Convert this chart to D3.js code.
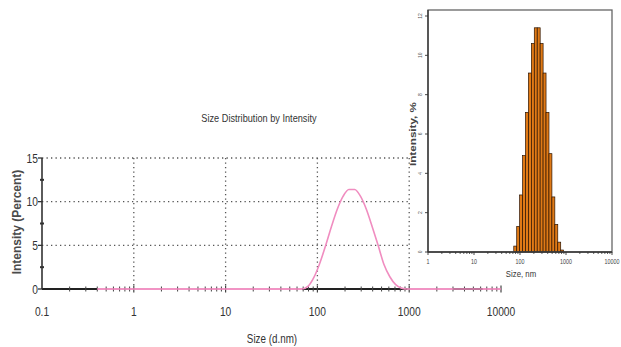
<!DOCTYPE html>
<html><head><meta charset="utf-8">
<script src="https://cdn.jsdelivr.net/npm/d3@7/dist/d3.min.js"></script>
<style>
html,body{margin:0;padding:0;background:#fff;}
svg{display:block;}
text{font-family:"Liberation Sans",Arial,sans-serif;}
</style></head>
<body><svg id="c" width="621" height="347"></svg>
<script>
// ---- data ----
const sizeNm = [0.4, 68.06, 78.82, 91.28, 105.7, 122.4, 141.8, 164.2, 190.1, 220.2, 255.0, 295.3, 342.0, 396.1, 458.7, 531.2, 615.1, 712.4, 825.0, 955.4, 10000];
const intensityPct = [0, 0, 0.3, 1.3, 2.9, 4.9, 7.1, 9.1, 10.6, 11.4, 11.4, 10.6, 9.1, 7.1, 5.0, 2.8, 1.4, 0.5, 0.1, 0, 0];
const blackBaseSegments = [[0.1, 0.4], [68.06, 955.4], [3000, 6300]];
const mainXTicks = [0.1, 1, 10, 100, 1000, 10000];
const mainXTickLabels = ["0.1", "1", "10", "100", "1000", "10000"];
const mainYTicks = [0, 5, 10, 15];
const insetXTicks = [1, 10, 100, 1000, 10000];
const insetXTickLabels = ["1", "10", "100", "1000", "10000"];
const insetYTicks = [0, 2, 4, 6, 8, 10, 12];
const binRatio = 1.1586;

const svg = d3.select("#c");
const pink = "#F08DC0";
const axisCol = "#333";
const NARROW = 0.82;

// narrow text helper (condensed look)
function ntext(sel, px, py, str, size, anchor, fill, rot) {
  const t = `translate(${px},${py})` + (rot ? ` rotate(${rot})` : "") + ` scale(${NARROW},1)`;
  return sel.append("text").attr("transform", t).attr("text-anchor", anchor || "middle")
    .attr("font-size", size).attr("fill", fill || "#333").text(str);
}

// ---- main chart ----
const x = d3.scaleLog().domain([0.1, 10000]).range([42, 501]);
const y = d3.scaleLinear().domain([0, 15]).range([289, 158]);

const g = svg.append("g");
g.selectAll(".hg").data(mainYTicks.filter(d => d > 0)).join("line")
  .attr("x1", x(0.1)).attr("x2", x(10000)).attr("y1", d => y(d)).attr("y2", d => y(d))
  .attr("stroke", "#555").attr("stroke-width", 1.3).attr("stroke-dasharray", "1.3,3.2");
g.selectAll(".vg").data(mainXTicks.filter(d => d > 0.1 && d < 10000)).join("line")
  .attr("x1", d => x(d)).attr("x2", d => x(d)).attr("y1", y(15)).attr("y2", y(0))
  .attr("stroke", "#555").attr("stroke-width", 1.3).attr("stroke-dasharray", "1.3,3.2");

// pink baseline
g.append("line").attr("x1", x(0.4)).attr("x2", x(10000)).attr("y1", y(0)).attr("y2", y(0))
  .attr("stroke", pink).attr("stroke-width", 1.6);
// black baseline segments
g.selectAll(".bs").data(blackBaseSegments).join("line")
  .attr("x1", d => x(d[0])).attr("x2", d => x(d[1])).attr("y1", y(0)).attr("y2", y(0))
  .attr("stroke", "#222").attr("stroke-width", 1.8);

// x minor ticks on baseline
const minor = [];
for (let e = -1; e <= 3; e++) for (let k = 2; k <= 9; k++) minor.push(k * Math.pow(10, e));
g.selectAll(".mt").data(minor).join("line")
  .attr("x1", d => x(d)).attr("x2", d => x(d)).attr("y1", y(0) - 2.5).attr("y2", y(0) + 2.5)
  .attr("stroke", "#444").attr("stroke-width", 1);
g.selectAll(".Mt").data(mainXTicks.filter(d => d > 0.1)).join("line")
  .attr("x1", d => x(d)).attr("x2", d => x(d)).attr("y1", y(0) - 3.5).attr("y2", y(0) + 3.5)
  .attr("stroke", "#444").attr("stroke-width", 1.2);

// pink curve
const line = d3.line().x((d, i) => x(sizeNm[i])).y(d => y(d)).curve(d3.curveMonotoneX);
g.append("path").datum(intensityPct).attr("d", line)
  .attr("fill", "none").attr("stroke", pink).attr("stroke-width", 1.6);

// y axis
g.append("line").attr("x1", x(0.1)).attr("x2", x(0.1)).attr("y1", y(15)).attr("y2", y(0))
  .attr("stroke", axisCol).attr("stroke-width", 1.6);
g.selectAll(".yt").data(mainYTicks).join("line")
  .attr("x1", x(0.1) - 4).attr("x2", x(0.1)).attr("y1", d => y(d)).attr("y2", d => y(d))
  .attr("stroke", axisCol).attr("stroke-width", 1.3);
g.selectAll(".ymt").data([2.5, 7.5, 12.5]).join("line")
  .attr("x1", x(0.1) - 2).attr("x2", x(0.1) + 2).attr("y1", d => y(d)).attr("y2", d => y(d))
  .attr("stroke", axisCol).attr("stroke-width", 2);
mainYTicks.forEach(d => ntext(g, x(0.1) - 4, y(d) + 4.5, d, 12.5, "end"));
mainXTicks.forEach((d, i) => ntext(g, x(d), 316, mainXTickLabels[i], 12.5, "middle"));

// titles
ntext(svg, 259, 122, "Size Distribution by Intensity", 11.2, "middle");
ntext(svg, 272, 343, "Size (d.nm)", 12, "middle");
svg.append("text").attr("transform", "translate(21,222) rotate(-90)").attr("text-anchor", "middle")
  .attr("font-weight", "bold").attr("font-size", 12).attr("fill", "#4a4a4a").text("Intensity (Percent)");

// ---- inset ----
const xi = d3.scaleLog().domain([1, 10000]).range([428, 612]);
const yi = d3.scaleLinear().domain([0, 12]).range([252, 16]);
const ins = svg.append("g");
ins.append("rect").attr("x", 411).attr("y", 0).attr("width", 210).attr("height", 283).attr("fill", "#fff");

const bars = sizeNm.map((s, i) => ({ s, v: intensityPct[i] })).filter(d => d.v > 0);
ins.selectAll(".bar").data(bars).join("rect")
  .attr("x", d => xi(d.s / Math.sqrt(binRatio)))
  .attr("width", d => xi(d.s * Math.sqrt(binRatio)) - xi(d.s / Math.sqrt(binRatio)))
  .attr("y", d => yi(d.v)).attr("height", d => yi(0) - yi(d.v))
  .attr("fill", "#E07A16").attr("stroke", "#2a1200").attr("stroke-width", 0.7);

ins.append("rect").attr("x", xi(1)).attr("y", 10).attr("width", xi(10000) - xi(1)).attr("height", yi(0) - 10)
  .attr("fill", "none").attr("stroke", "#666").attr("stroke-width", 1.3);
ins.append("line").attr("x1", xi(1)).attr("x2", xi(10000)).attr("y1", yi(0)).attr("y2", yi(0))
  .attr("stroke", "#333").attr("stroke-width", 1.3);
ins.append("line").attr("x1", xi(1)).attr("x2", xi(1)).attr("y1", 10).attr("y2", yi(0))
  .attr("stroke", "#333").attr("stroke-width", 1.3);

const iminor = [];
for (let e = 0; e <= 3; e++) for (let k = 2; k <= 9; k++) iminor.push(k * Math.pow(10, e));
ins.selectAll(".imt").data(iminor).join("line")
  .attr("x1", d => xi(d)).attr("x2", d => xi(d)).attr("y1", yi(0)).attr("y2", yi(0) + 2)
  .attr("stroke", "#333").attr("stroke-width", 0.8);
ins.selectAll(".iMt").data(insetXTicks).join("line")
  .attr("x1", d => xi(d)).attr("x2", d => xi(d)).attr("y1", yi(0)).attr("y2", yi(0) + 3)
  .attr("stroke", "#333").attr("stroke-width", 0.9);
insetXTicks.forEach((d, i) => ntext(ins, xi(d), 264, insetXTickLabels[i], 6.5, "middle", "#444"));

ins.selectAll(".iyt").data(insetYTicks).join("line")
  .attr("x1", xi(1) - 3).attr("x2", xi(1)).attr("y1", d => yi(d)).attr("y2", d => yi(d))
  .attr("stroke", "#333").attr("stroke-width", 0.9);
insetYTicks.forEach(d => ntext(ins, 422, yi(d), d, 6, "middle", "#555", -90));

ntext(ins, 521, 277, "Size, nm", 9.5, "middle", "#333");
ins.append("text").attr("transform", "translate(416,134) rotate(-90)").attr("text-anchor", "middle")
  .attr("font-weight", "bold").attr("font-size", 8.5).attr("fill", "#444")
  .attr("textLength", 64).attr("lengthAdjust", "spacingAndGlyphs").text("Intensity, %");
</script></body></html>
